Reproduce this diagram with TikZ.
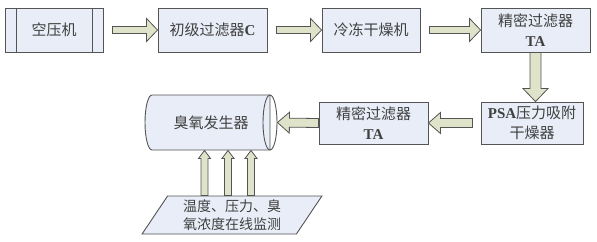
\documentclass[tikz,border=0pt]{standalone}
\usepackage{fontspec}
\setmainfont{Liberation Serif}
\newfontfamily\cjk{Noto Sans CJK SC}
\usetikzlibrary{calc,shapes.geometric}
\definecolor{BoxClr}{rgb}{0.91,0.93,0.97}
\definecolor{ArrClr}{rgb}{0.87,0.89,0.79}
\definecolor{LineClr}{rgb}{0.33,0.33,0.33}
\definecolor{TxtClr}{rgb}{0.25,0.25,0.25}

% half shaft, half head, head length
\newcommand\arrsize[3]{\def\shw{#1}\def\hdw{#2}\def\hdl{#3}}
\arrsize{3.5pt}{11.5pt}{11pt}
\newcommand\fatarrow[3][0pt]{%
  \path ($(#2)!#1!(#3)$) coordinate (fa0) ($(#3)!\hdl!(#2)$) coordinate (fa1);
  \draw[arr] ($(fa0)!\shw!90:(#3)$) -- ($(fa1)!\shw!90:(#3)$)
    -- ($(fa1)!\hdw!90:(#3)$) -- (#3) -- ($(fa1)!\hdw!-90:(#3)$)
    -- ($(fa1)!\shw!-90:(#3)$) -- ($(fa0)!\shw!-90:(#3)$) -- cycle;}

\begin{document}
\begin{tikzpicture}[x=1pt,y=-1pt,
  box/.style={draw=LineClr,line width=.9pt,fill=BoxClr,text=TxtClr,
    minimum height=44,align=center,inner sep=1pt,
    font=\cjk\fontsize{15}{20}\selectfont},
  arr/.style={draw=LineClr,line width=.8pt,fill=ArrClr,line join=miter}]
\useasboundingbox (0,0) rectangle (597,241);

\node[box,minimum width=98] (air) at (54,30) {空压机};
\node[box,minimum width=109] (pre) at (212.5,30) {初级过滤器{\rmfamily\bfseries C}};
\node[box,minimum width=98] (dry) at (371,30) {冷冻干燥机};
\node[box,minimum width=109] (finA) at (535.5,30) {精密过滤器\\{\rmfamily\bfseries TA}};
\node[box,minimum width=102,minimum height=42] (psa) at (532,123)
  {{\rmfamily\bfseries PSA}压力吸附\\干燥器};
\node[box,minimum width=109,minimum height=42] (finB) at (373.5,123)
  {精密过滤器\\{\rmfamily\bfseries TA}};

% cylinder of the generator
\coordinate (ozc) at (211,122.5);
\draw[LineClr,line width=.9pt,fill=BoxClr] ($(ozc)+(-59,27.5)$) -- ($(ozc)+(59,27.5)$)
  -- ($(ozc)+(59,-27.5)$) -- ($(ozc)+(-59,-27.5)$)
  arc[start angle=90,end angle=270,x radius=7pt,y radius=27.5pt] -- cycle;
\draw[LineClr,line width=.9pt] ($(ozc)+(59,0)$) ellipse[x radius=7pt,y radius=27.5pt];
\node[box,draw=none,fill=none,minimum width=132,minimum height=55] (ozone)
  at (ozc) {臭氧发生器};

\node[box,trapezium,trapezium left angle=59,trapezium right angle=121,
  trapezium stretches=true,minimum width=180,minimum height=38,
  font=\cjk\fontsize{14}{18}\selectfont] (mon) at (232,215)
  {温度、压力、臭\\氧浓度在线监测};

\draw[LineClr,line width=.9pt] ($(air.north west)+(12,0)$) -- ($(air.south west)+(12,0)$)
  ($(air.north east)+(-11,0)$) -- ($(air.south east)+(-11,0)$);

\fatarrow[9pt]{air.east}{pre.west}
\fatarrow[9pt]{pre.east}{dry.west}
\fatarrow[9pt]{dry.east}{finA.west}
\path (finA.south) coordinate (d0) (d0 |- psa.north) coordinate (d1);
\arrsize{5.5pt}{12.5pt}{13pt}
\fatarrow{d0}{d1}
\arrsize{4.5pt}{10.5pt}{12pt}
\fatarrow[8pt]{psa.west}{finB.east}
\fatarrow{finB.west}{ozone.east}
\arrsize{3.5pt}{6pt}{8pt}
\foreach \dx in {-6.5,17,40}{
  \path ($(ozone.south)+(\dx,0)$) coordinate (u1) (u1 |- mon.north) coordinate (u0);
  \fatarrow{u0}{u1}}
\end{tikzpicture}
\end{document}
